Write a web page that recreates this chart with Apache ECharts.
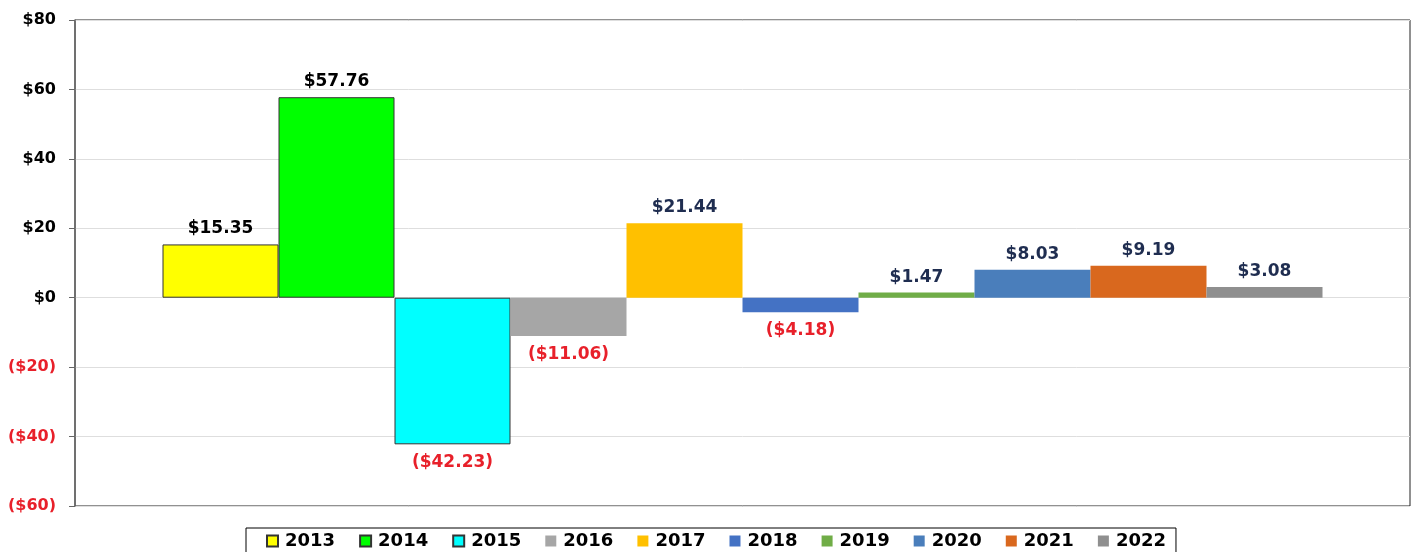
<!DOCTYPE html>
<html>
<head>
<meta charset="utf-8">
<script src="https://cdn.jsdelivr.net/npm/echarts@6/dist/echarts.min.js"></script>
<style>
html, body { margin: 0; padding: 0; background: #fff; }
#chart { width: 1416px; height: 552px; }
</style>
</head>
<body>
<div id="chart"></div>
<script>
// one bar per year, all side by side
const years = ['2013', '2014', '2015', '2016', '2017', '2018', '2019', '2020', '2021', '2022']
const values = [15.35, 57.76, -42.23, -11.06, 21.44, -4.18, 1.47, 8.03, 9.19, 3.08]
const colors = ['#ffff00', '#00ff00', '#00ffff', '#a6a6a6', '#ffc000', '#4472c4', '#70ad47', '#4a7ebb', '#d9681e', '#8f8f8f']
const yTicks = [-60, -40, -20, 0, 20, 40, 60, 80]

const money = v => v < 0 ? '($' + Math.abs(v).toFixed(2) + ')' : '$' + v.toFixed(2)
const tickLabel = v => v < 0 ? '($' + Math.abs(v) + ')' : '$' + v
const labelFont = 'DejaVu Sans'

const myChart = echarts.init(document.getElementById('chart'))

const series = years.map((y, i) => {
  const v = values[i]
  const outlined = i < 3
  return {
    type: 'bar',
    name: y,
    data: [v],
    barWidth: 116,
    barGap: '0%',
    itemStyle: {
      color: colors[i],
      borderColor: outlined ? '#333' : null,
      borderWidth: outlined ? 1 : 0
    },
    label: {
      show: true,
      position: v < 0 ? 'bottom' : 'top',
      distance: v < 0 ? 10 : 7,
      formatter: () => money(v),
      fontFamily: labelFont,
      fontWeight: 'bold',
      fontSize: 17,
      color: v < 0 ? '#e8202a' : (i < 2 ? '#000' : '#1f2d50')
    }
  }
})

const option = {
  animation: false,
  grid: {
    left: 75,
    right: 6,
    top: 20,
    bottom: 46,
    show: true,
    borderColor: '#222',
    borderWidth: 1
  },
  legend: {
    data: years,
    top: 528,
    left: 246,
    icon: 'rect',
    borderColor: '#000',
    borderWidth: 1,
    padding: [4, 10, 8, 20],
    itemWidth: 11,
    itemHeight: 11,
    itemGap: 24,
    textStyle: {
      fontFamily: labelFont,
      fontWeight: 'bold',
      fontSize: 18,
      color: '#000',
      padding: [0, 0, 0, 2]
    }
  },
  xAxis: {
    type: 'category',
    data: [''],
    axisLine: { show: false },
    axisTick: { show: false },
    axisLabel: { show: false }
  },
  yAxis: {
    type: 'value',
    min: yTicks[0],
    max: yTicks[yTicks.length - 1],
    interval: 20,
    axisLine: { show: true, lineStyle: { color: '#666', width: 1.5 } },
    axisTick: { show: true, length: 6, lineStyle: { color: '#666' } },
    splitLine: { lineStyle: { color: '#dedede' } },
    axisLabel: {
      formatter: tickLabel,
      fontFamily: labelFont,
      fontWeight: 'bold',
      fontSize: 16,
      margin: 19,
      color: v => (v < 0 ? '#e8202a' : '#000')
    }
  },
  series: series
}

myChart.setOption(option)
</script>
</body>
</html>
